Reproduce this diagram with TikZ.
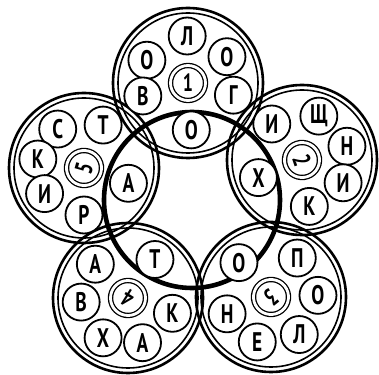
\documentclass[tikz,border=0pt]{standalone}
\usepackage{fontspec}
\newfontfamily\ruletter[FakeStretch=0.72]{PT Sans}
\usepackage{tikz}

\begin{document}
\begin{tikzpicture}[x=1bp,y=1bp,
  letter/.style={draw,circle,fill=white,line width=1.8bp,minimum size=37bp,inner sep=0pt,font=\ruletter\bfseries\fontsize{27}{27}\selectfont},
  numeral/.style={draw,circle,double,double distance=2.8bp,line width=1.3bp,minimum size=35bp,inner sep=0pt,font=\ruletter\bfseries\fontsize{25}{25}\selectfont},
  rimout/.style={line width=2.6bp},
  rimin/.style={line width=1.6bp}]
\useasboundingbox (0,0) rectangle (379,375);
    \coordinate (c0) at (192,175);
    \coordinate (d1) at (188,292);
    \coordinate (d2) at (302,215);
    \coordinate (d3) at (271,78);
    \coordinate (d4) at (128,77);
    \coordinate (d5) at (84,207);
    % double rims
    \draw[rimout] (d1) circle (75);
    \draw[rimin] (d1) circle (70);
    \draw[rimout] (d2) circle (75);
    \draw[rimin] (d2) circle (70);
    \draw[rimout] (d3) circle (75);
    \draw[rimin] (d3) circle (70);
    \draw[rimout] (d4) circle (75);
    \draw[rimin] (d4) circle (70);
    \draw[rimout] (d5) circle (75);
    \draw[rimin] (d5) circle (70);
    \draw[line width=4.6bp] (c0) circle (88);
  \begin{scope}[shift={(d1)}]
    \node[numeral](n1) at (0,0){1};
    \node[letter](l11) at (91:47){Л};
    \node[letter](l12) at (151:47){О};
    \node[letter](l13) at (196:47){В};
    \node[letter](l14) at (274:47){О};
    \node[letter](l15) at (345:47){Г};
    \node[letter](l16) at (34:47){О};
  \end{scope}
  \begin{scope}[shift={(d2)}]
    \node[numeral,rotate=-71](n2) at (0,0){2};
    \node[letter](l21) at (130:47){И};
    \node[letter](l22) at (69:47){Щ};
    \node[letter](l23) at (17:47){Н};
    \node[letter](l24) at (-29:47){И};
    \node[letter](l25) at (-81:47){К};
    \node[letter](l26) at (202:47){Х};
  \end{scope}
  \begin{scope}[shift={(d3)}]
    \node[numeral,rotate=-141](n3) at (0,0){3};
    \node[letter](l31) at (133:47){О};
    \node[letter](l32) at (56:47){П};
    \node[letter](l33) at (2:47){О};
    \node[letter](l34) at (-53:47){Л};
    \node[letter](l35) at (253:47){Е};
    \node[letter](l36) at (201:47){Н};
  \end{scope}
  \begin{scope}[shift={(d4)}]
    \node[numeral,rotate=148](n4) at (0,0){4};
    \node[letter](l41) at (134:47){А};
    \node[letter](l42) at (55:47){Т};
    \node[letter](l43) at (185:47){В};
    \node[letter](l44) at (-19:47){К};
    \node[letter](l45) at (238:47){Х};
    \node[letter](l46) at (288:47){А};
  \end{scope}
  \begin{scope}[shift={(d5)}]
    \node[numeral,rotate=74](n5) at (0,0){5};
    \node[letter](l51) at (124:47){С};
    \node[letter](l52) at (66:47){Т};
    \node[letter](l53) at (169:47){К};
    \node[letter](l54) at (213:47){И};
    \node[letter](l55) at (270:47){Р};
    \node[letter](l56) at (341:47){А};
  \end{scope}
\end{tikzpicture}
\end{document}
